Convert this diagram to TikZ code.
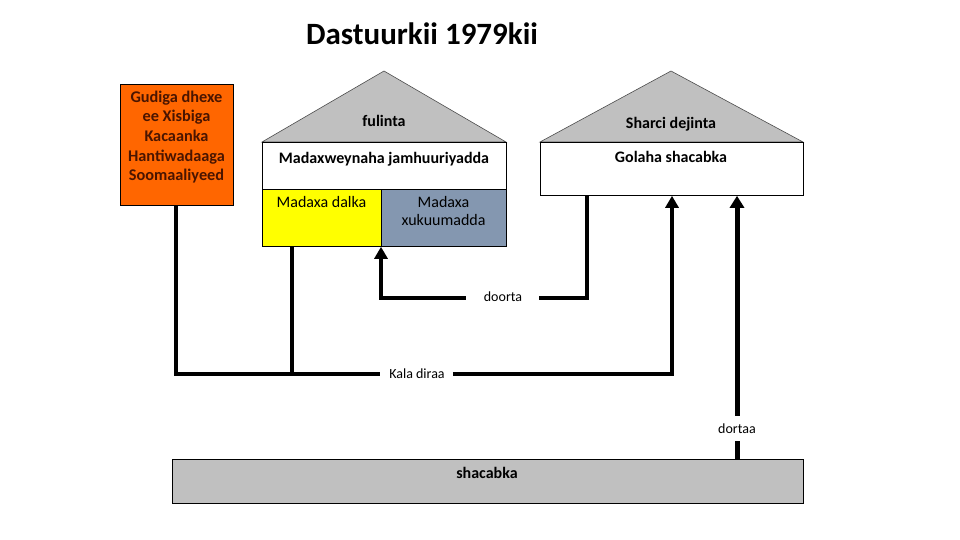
\documentclass[tikz,border=0pt]{standalone}
\usepackage{fontspec}
\setmainfont{Carlito}
\usetikzlibrary{arrows.meta}
\definecolor{orangebox}{HTML}{FF6600}
\definecolor{orangetext}{HTML}{4A1500}
\definecolor{roofgray}{HTML}{C0C0C0}
\definecolor{bluegray}{HTML}{8497B0}
\definecolor{yellowbox}{HTML}{FFFF00}
\tikzset{
  boxshape/.style={draw=black, line width=0.8pt, inner sep=0pt},
  bold16/.style={font=\fontsize{16}{19}\selectfont\bfseries},
  reg15/.style={font=\fontsize{16}{18}\selectfont},
  lbl/.style={font=\fontsize{14}{17}\selectfont, inner sep=0pt},
  conn/.style={line width=4pt, draw=black},
  arr/.style={conn, -{Triangle[width=13pt,length=12pt]}},
}
\begin{document}
\begin{tikzpicture}[x=1pt,y=-1pt]
\useasboundingbox (0,0) rectangle (960,540);
% title
\node[font=\fontsize{31}{36}\selectfont\bfseries] (title) at (422,34) {Dastuurkii 1979kii};
% orange box
\node[boxshape, fill=orangebox, minimum width=113pt, minimum height=121pt, anchor=north west] (gudiga) at (120,84) {};
\node[text=orangetext, align=center, font=\fontsize{16.3}{19.6}\selectfont\bfseries] (gudigatext) at (176.5,137) {Gudiga dhexe\\ee Xisbiga\\Kacaanka\\Hantiwadaaga\\Soomaaliyeed};
% house 1
\draw[draw=black!70, fill=roofgray, line width=0.6pt] (262,142) coordinate (r1l) -- (384,71) coordinate (r1t) -- (506,142) coordinate (r1r) -- cycle;
\node[bold16] (fulinta) at (384,121) {fulinta};
\node[boxshape, fill=white, minimum width=244pt, minimum height=47pt, anchor=north west] (madax) at (262,142) {};
\node[bold16] (madaxtext) at (384,159) {Madaxweynaha jamhuuriyadda};
\node[boxshape, fill=yellowbox, minimum width=119pt, minimum height=57pt, anchor=north west] (dalka) at (262,189) {};
\node[reg15] (dalkatext) at (321.5,202) {Madaxa dalka};
\node[boxshape, fill=bluegray, minimum width=125pt, minimum height=57pt, anchor=north west] (xukuumad) at (381,189) {};
\node[reg15, align=center] (xukuumadtext) at (443.5,211) {Madaxa\\xukuumadda};
% house 2
\draw[draw=black!70, fill=roofgray, line width=0.6pt] (540,142) coordinate (r2l) -- (671,71) coordinate (r2t) -- (803,142) coordinate (r2r) -- cycle;
\node[bold16] (sharci) at (671,124) {Sharci dejinta};
\node[boxshape, fill=white, minimum width=263pt, minimum height=53pt, anchor=north west] (golaha) at (540,142) {};
\node[bold16] (golahatext) at (671,157) {Golaha shacabka};
% bottom box
\node[boxshape, fill=roofgray, minimum width=631pt, minimum height=44pt, anchor=north west] (shacabka) at (172,459) {};
\node[bold16] (shacabkatext) at (487,473) {shacabka};
% labels
\node[lbl] (kala) at (417,374) {Kala diraa};
\node[lbl] (doorta) at (503,297) {doorta};
\node[lbl] (dortaa) at (737,429) {dortaa};
% coordinates
\coordinate (g1) at (176,374);
\coordinate (d1) at (292,374);
\coordinate (k1) at (672,374);
\coordinate (o1) at (587,298);
\coordinate (o2) at (381,298);
% connectors
\draw[conn] (gudiga.south -| g1) -- (g1) -- ([xshift=-9pt]kala.west);
\draw[conn] (dalka.south -| d1) -- (d1);
\draw[arr] ([xshift=8pt]kala.east) -- (k1) -- (golaha.south -| k1);
\draw[conn] (golaha.south -| o1) -- (o1) -- ([xshift=17pt]doorta.east |- o1);
\draw[arr] ([xshift=-18pt]doorta.west |- o2) -- (o2) -- (xukuumad.south west);
\draw[line width=5pt] (shacabka.north -| dortaa) -- ([yshift=-7pt]dortaa.south);
\draw[line width=5pt, -{Triangle[width=14pt,length=12pt]}] ([yshift=8pt]dortaa.north) -- (golaha.south -| dortaa);
\end{tikzpicture}
\end{document}
